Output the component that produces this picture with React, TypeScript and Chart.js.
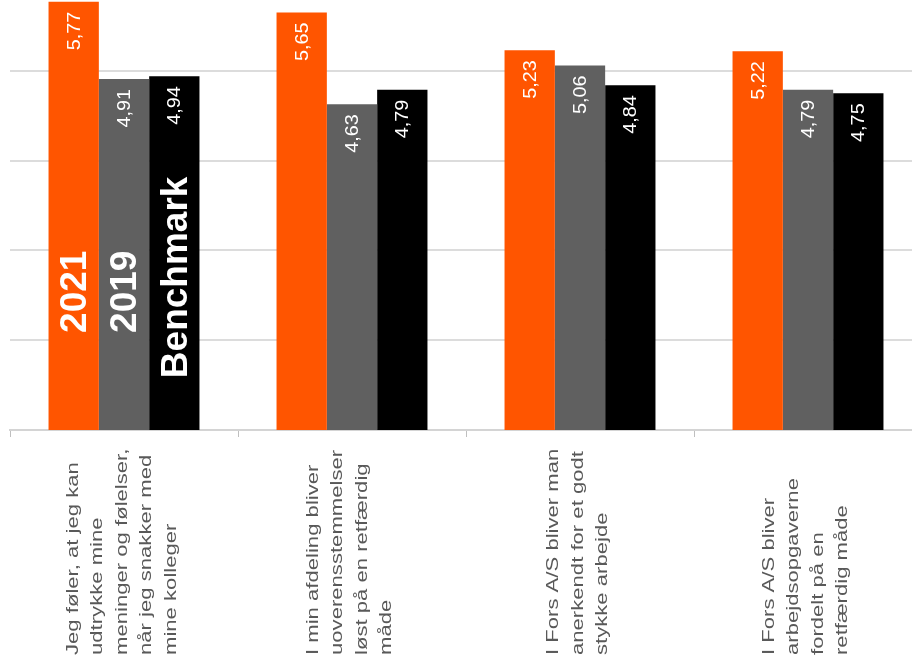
import React, { useEffect, useRef } from "react";
import { Chart, registerables } from "chart.js";

Chart.register(...registerables);

const categoryLabels: string[][] = [
  ["Jeg føler, at jeg kan", "udtrykke mine", "meninger og følelser,", "når jeg snakker med", "mine kolleger"],
  ["I min afdeling bliver", "uoverensstemmelser", "løst på en retfærdig", "måde"],
  ["I Fors A/S bliver man", "anerkendt for et godt", "stykke arbejde"],
  ["I Fors A/S bliver", "arbejdsopgaverne", "fordelt på en", "retfærdig måde"],
];

const seriesNames = ["2021", "2019", "Benchmark"];
const values2021 = [5.77, 5.65, 5.23, 5.22];
const values2019 = [4.91, 4.63, 5.06, 4.79];
const valuesBenchmark = [4.94, 4.79, 4.84, 4.75];
const seriesColors = ["#FF5500", "#606060", "#000000"];
const yTicks = [1, 2, 3, 4, 5];
const yMin = 1;
const yMax = 5.79;

const overlayPlugin = {
  id: "overlay",
  afterDatasetsDraw(chart: any) {
    const ctx = chart.ctx as CanvasRenderingContext2D;
    const yScale = chart.scales.y;
    // value labels inside bars
    chart.data.datasets.forEach((ds: any, di: number) => {
      const meta = chart.getDatasetMeta(di);
      meta.data.forEach((bar: any, i: number) => {
        const v = ds.data[i] as number;
        ctx.save();
        ctx.translate(bar.x + 1, bar.y + 10);
        ctx.rotate(-Math.PI / 2);
        ctx.scale(1.1, 1);
        ctx.font = '18px "Liberation Sans", Arial, sans-serif';
        ctx.fillStyle = "#FFFFFF";
        ctx.textAlign = "right";
        ctx.textBaseline = "middle";
        ctx.fillText(v.toFixed(2).replace(".", ","), 0, 0);
        ctx.restore();
      });
    });
    // legend names inside first group
    const legendCenters = [2.54, 2.54, 2.7];
    chart.data.datasets.forEach((ds: any, di: number) => {
      const bar = chart.getDatasetMeta(di).data[0] as any;
      ctx.save();
      ctx.translate(bar.x + 2, yScale.getPixelForValue(legendCenters[di]));
      ctx.rotate(-Math.PI / 2);
      ctx.font = 'bold 37px "Liberation Sans", Arial, sans-serif';
      ctx.fillStyle = "#FFFFFF";
      ctx.textAlign = "center";
      ctx.textBaseline = "middle";
      ctx.fillText(ds.label, 0, 0);
      ctx.restore();
    });
  },
  afterDraw(chart: any) {
    const ctx = chart.ctx as CanvasRenderingContext2D;
    const xScale = chart.scales.x;
    const lineH = 24.5;
    const startY = chart.chartArea.bottom + 225;
    (chart.data.labels as string[][]).forEach((lines, i) => {
      const cx = xScale.getPixelForValue(i) - 2;
      const total = (lines.length - 1) * lineH;
      lines.forEach((line, j) => {
        const lx = cx - total / 2 + j * lineH;
        ctx.save();
        ctx.translate(lx, startY);
        ctx.rotate(-Math.PI / 2);
        ctx.scale(1.3, 1);
        ctx.font = '17px "Liberation Sans", Arial, sans-serif';
        ctx.fillStyle = "#595959";
        ctx.textAlign = "left";
        ctx.textBaseline = "middle";
        ctx.fillText(line, 0, 0);
        ctx.restore();
      });
    });
  },
};

export default function App() {
  const canvasRef = useRef<HTMLCanvasElement | null>(null);

  useEffect(() => {
    if (!canvasRef.current) return;
    const seriesValues = [values2021, values2019, valuesBenchmark];
    const chart = new Chart(canvasRef.current, {
      type: "bar",
      data: {
        labels: categoryLabels as any,
        datasets: seriesNames.map((name, i) => ({
          label: name,
          data: seriesValues[i],
          backgroundColor: seriesColors[i],
          borderWidth: 0,
          barPercentage: 1,
          categoryPercentage: 0.662,
        })),
      },
      options: {
        animation: false,
        responsive: false,
        devicePixelRatio: 1,
        layout: { padding: { left: 10, top: 0, right: 0, bottom: 0 } },
        plugins: {
          legend: { display: false },
          tooltip: { enabled: false },
        },
        scales: {
          x: {
            ticks: { display: false },
            grid: {
              offset: true,
              drawOnChartArea: false,
              drawTicks: true,
              tickLength: 7,
              color: "#BFBFBF",
              lineWidth: 1,
            },
            border: { display: true, color: "#D4D4D4", width: 2 },
            afterFit: (scale: any) => {
              scale.height = 239;
            },
          },
          y: {
            min: yMin,
            max: yMax,
            ticks: { display: false },
            grid: { color: "#DCDCDC", lineWidth: 2, drawTicks: false },
            border: { display: false },
            afterBuildTicks: (scale: any) => {
              scale.ticks = yTicks.map((v) => ({ value: v }));
            },
            afterFit: (scale: any) => {
              scale.width = 0;
            },
          },
        },
      },
      plugins: [overlayPlugin],
    });
    return () => chart.destroy();
  }, []);

  return (
    <div
      style={{
        position: "fixed",
        left: 0,
        top: 0,
        width: 912,
        height: 669,
        overflow: "hidden",
        background: "#FFFFFF",
      }}
    >
      <canvas ref={canvasRef} width={922} height={669} style={{ width: 922, height: 669, display: "block" }} />
    </div>
  );
}
